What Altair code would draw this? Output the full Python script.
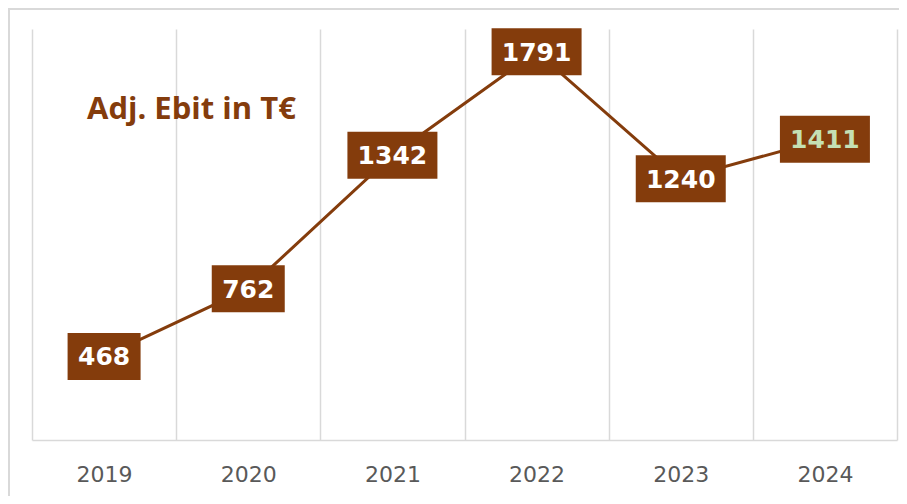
import altair as alt
import pandas as pd

years = ["2019", "2020", "2021", "2022", "2023", "2024"]
values = [468, 762, 1342, 1791, 1240, 1411]
label_colors = ["#FFFFFF", "#FFFFFF", "#FFFFFF", "#FFFFFF", "#FFFFFF", "#C5E0B4"]
title_text = "Adj. Ebit in T€"

df = pd.DataFrame({"year": years, "value": values, "lc": label_colors})

W, H = 865, 411
BROWN = "#843C0C"
GRID = "#d9d9d9"

xscale = alt.Scale(type="band", paddingInner=0, paddingOuter=0, domain=years)
yscale = alt.Scale(domain=[105, 1890], nice=False, zero=False)

x_axis = alt.Axis(
    title=None, grid=True, tickBand="extent", gridColor=GRID, gridWidth=1.5,
    ticks=False, domainColor=GRID, domainWidth=1.5,
    labelFont="DejaVu Sans", labelFontSize=22, labelColor="#595959",
    labelPadding=24, labelAngle=0,
)

base = alt.Chart(df)
x = alt.X("year:N", scale=xscale, axis=x_axis)
xs = alt.X("year:N", scale=xscale)
y = alt.Y("value:Q", scale=yscale, axis=None)

line = base.mark_line(color=BROWN, strokeWidth=3).encode(x=x, y=y)

box3 = base.transform_filter("datum.value < 1000").mark_rect(
    width=73, height=47, color=BROWN
).encode(x=xs, y=y)
box4 = base.transform_filter("datum.value >= 1000").mark_rect(
    width=90, height=47, color=BROWN
).encode(x=xs, y=y)

labels = base.mark_text(
    font="DejaVu Sans", fontSize=25, fontWeight="bold", baseline="middle", dy=1
).encode(x=xs, y=y, text="value:Q", color=alt.Color("lc:N", scale=None))

title = alt.Chart(pd.DataFrame({"t": [title_text]})).mark_text(
    font="Open Sans", fontSize=31, fontWeight="bold", color=BROWN,
    align="left", baseline="alphabetic"
).encode(x=alt.value(55), y=alt.value(90), text="t:N")

border_top = alt.Chart(pd.DataFrame({"a": [0]})).mark_rule(
    color=GRID, strokeWidth=2
).encode(x=alt.value(-24), x2=alt.value(W + 2), y=alt.value(-20))
border_left = alt.Chart(pd.DataFrame({"a": [0]})).mark_rule(
    color=GRID, strokeWidth=2
).encode(x=alt.value(-23), y=alt.value(-21), y2=alt.value(H + 56))

chart = alt.layer(
    border_top, border_left, line, box3, box4, labels, title
).properties(
    width=W, height=H,
    autosize=alt.AutoSizeParams(type="none"),
    padding={"left": 24, "top": 21, "right": 2, "bottom": 56},
).configure_view(stroke=None)

chart.save("out.html", embed_options={"renderer": "svg", "actions": False})
